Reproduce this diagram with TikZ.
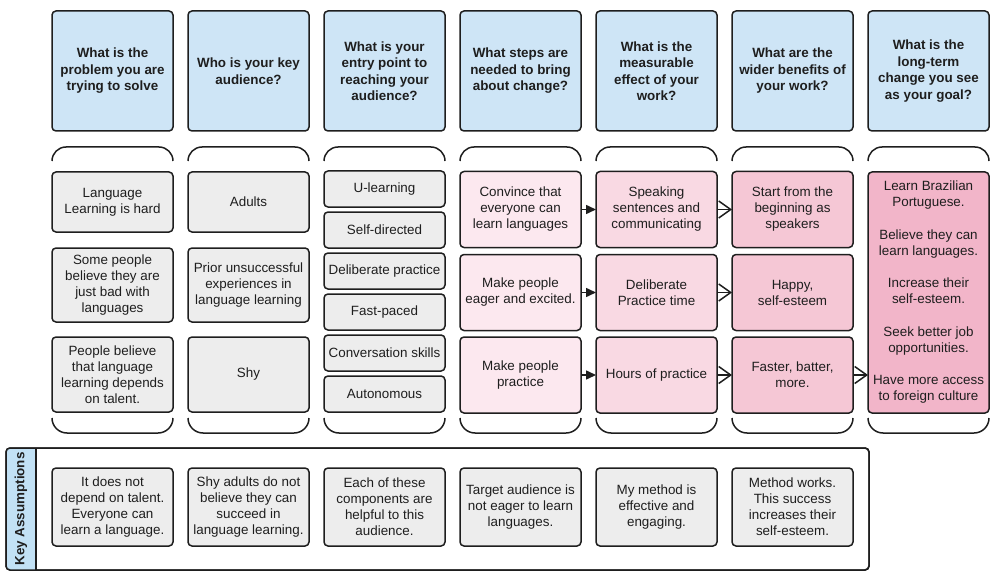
\documentclass[tikz,border=0pt]{standalone}
\usepackage{fontspec}
\setmainfont{Liberation Sans}
\usetikzlibrary{arrows.meta}
\definecolor{hdr}{RGB}{206,229,246}
\definecolor{gry}{RGB}{237,237,237}
\definecolor{pkA}{RGB}{252,232,239}
\definecolor{pkB}{RGB}{249,217,227}
\definecolor{pkC}{RGB}{245,199,213}
\definecolor{pkD}{RGB}{242,181,201}
\definecolor{kastrip}{RGB}{194,225,245}
\definecolor{ink}{RGB}{30,30,30}
\tikzset{
  base/.style={draw=ink, line width=1.5pt, rounded corners=4pt, inner sep=0pt, outer sep=0pt,
    minimum width=121pt, align=center, text=ink, font=\fontsize{13.4}{16}\selectfont},
  hbox/.style={base, fill=hdr, minimum height=120pt, font=\fontsize{13.4}{16.5}\selectfont\bfseries},
  gbox/.style={base, fill=gry},
  brc/.style={draw=ink, line width=1.5pt},
  fa/.style={draw=ink, line width=1.5pt, -{Triangle[length=10pt,width=9pt]}},
  oa/.style={draw=ink, line width=1.5pt, -{Straight Barb[length=12pt,width=17pt,line width=1.5pt]}},
}
\begin{document}
\begin{tikzpicture}[x=1pt,y=-1pt]
\useasboundingbox (0,0) rectangle (995,580);
% headers
\node[hbox] (h1) at (112.5,71) {What is the\\problem you are\\trying to solve};
\node[hbox] (h2) at (248.5,71) {Who is your key\\audience?};
\node[hbox] (h3) at (384.5,71) {What is your\\entry point to\\reaching your\\audience?};
\node[hbox] (h4) at (520.5,71) {What steps are\\needed to bring\\about change?};
\node[hbox] (h5) at (656.5,71) {What is the\\measurable\\effect of your\\work?};
\node[hbox] (h6) at (792.5,71) {What are the\\wider benefits of\\your work?};
\node[hbox] (h7) at (928.5,71) {What is the\\long-term\\change you see\\as your goal?};
% braces
\foreach \x in {52,188,324,460,596,732,868}{
  \draw[brc, rounded corners=14pt] (\x,161) -- (\x,147) -- ({\x+121},147) -- ({\x+121},161);
  \draw[brc, rounded corners=15pt] (\x,418) -- (\x,433) -- ({\x+121},433) -- ({\x+121},418);
}
% column 1
\node[gbox, minimum height=60pt] (c1a) at (112.5,202) {Language\\Learning is hard};
\node[gbox, minimum height=74pt] (c1b) at (112.5,285) {Some people\\believe they are\\just bad with\\languages};
\node[gbox, minimum height=75pt] (c1c) at (112.5,374.5) {People believe\\that language\\learning depends\\on talent.};
% column 2
\node[gbox, minimum height=60pt] (c2a) at (248.5,202) {Adults};
\node[gbox, minimum height=74pt] (c2b) at (248.5,285) {Prior unsuccessful\\experiences in\\language learning};
\node[gbox, minimum height=75pt] (c2c) at (248.5,374.5) {Shy};
% column 3
\node[gbox, minimum height=36pt] (c3a) at (384.5,189) {U-learning};
\node[gbox, minimum height=36pt] (c3b) at (384.5,230) {Self-directed};
\node[gbox, minimum height=36pt] (c3c) at (384.5,271) {Deliberate practice};
\node[gbox, minimum height=36pt] (c3d) at (384.5,312) {Fast-paced};
\node[gbox, minimum height=36pt] (c3e) at (384.5,353) {Conversation skills};
\node[gbox, minimum height=36pt] (c3f) at (384.5,394) {Autonomous};
% column 4
\node[base, fill=pkA, minimum height=76pt] (c4a) at (520.5,209.5) {Convince that\\everyone can\\learn languages};
\node[base, fill=pkA, minimum height=76pt] (c4b) at (520.5,292.5) {Make people\\eager and excited.};
\node[base, fill=pkA, minimum height=76pt] (c4c) at (520.5,375) {Make people\\practice};
% column 5
\node[base, fill=pkB, minimum height=76pt] (c5a) at (656.5,209.5) {Speaking\\sentences and\\communicating};
\node[base, fill=pkB, minimum height=76pt] (c5b) at (656.5,292.5) {Deliberate\\Practice time};
\node[base, fill=pkB, minimum height=76pt] (c5c) at (656.5,375) {Hours of practice};
% column 6
\node[base, fill=pkC, minimum height=76pt] (c6a) at (792.5,209.5) {Start from the\\beginning as\\speakers};
\node[base, fill=pkC, minimum height=76pt] (c6b) at (792.5,292.5) {Happy,\\self-esteem};
\node[base, fill=pkC, minimum height=76pt] (c6c) at (792.5,375) {Faster, batter,\\more.};
% column 7
\node[base, fill=pkD, minimum height=241pt] (c7) at (928.5,292.5) {Learn Brazilian\\Portuguese.\\[16.5pt]Believe they can\\learn languages.\\[16.5pt]Increase their\\self-esteem.\\[16.5pt]Seek better job\\opportunities.\\[16.5pt]Have more access\\to foreign culture};
% arrows
\draw[fa] (c4a.east) -- (c5a.west);
\draw[fa] (c4b.east) -- (c5b.west);
\draw[fa] (c4c.east) -- (c5c.west);
\draw[oa] (c5a.east) -- (c6a.west);
\draw[oa] (c5b.east) -- (c6b.west);
\draw[oa] (c5c.east) -- (c6c.west);
\draw[oa] (c6c.east) -- (c6c.east -| c7.west);
% key assumptions
\node[draw=ink, line width=1.5pt, rounded corners=4pt, inner sep=0pt, outer sep=0pt, minimum width=863pt, minimum height=122pt] (ka) at (437.5,509) {};
\begin{scope}
\clip[rounded corners=4pt] (6,448) rectangle (869,570);
\fill[kastrip] (6,448) rectangle (36,570);
\end{scope}
\draw[ink, line width=1.5pt, rounded corners=4pt] (6,448) rectangle (869,570);
\draw[ink, line width=1.5pt] (36,448) -- (36,570);
\node[rotate=90, font=\fontsize{13.4}{16}\selectfont\bfseries, text=ink] (kal) at (21,509) {Key Assumptions};
\node[gbox, minimum height=78pt] (k1) at (112.5,507) {It does not\\depend on talent.\\Everyone can\\learn a language.};
\node[gbox, minimum height=78pt] (k2) at (248.5,507) {Shy adults do not\\believe they can\\succeed in\\language learning.};
\node[gbox, minimum height=78pt] (k3) at (384.5,507) {Each of these\\components are\\helpful to this\\audience.};
\node[gbox, minimum height=78pt] (k4) at (520.5,507) {Target audience is\\not eager to learn\\languages.};
\node[gbox, minimum height=78pt] (k5) at (656.5,507) {My method is\\effective and\\engaging.};
\node[gbox, minimum height=78pt] (k6) at (792.5,507) {Method works.\\This success\\increases their\\self-esteem.};
\end{tikzpicture}
\end{document}
